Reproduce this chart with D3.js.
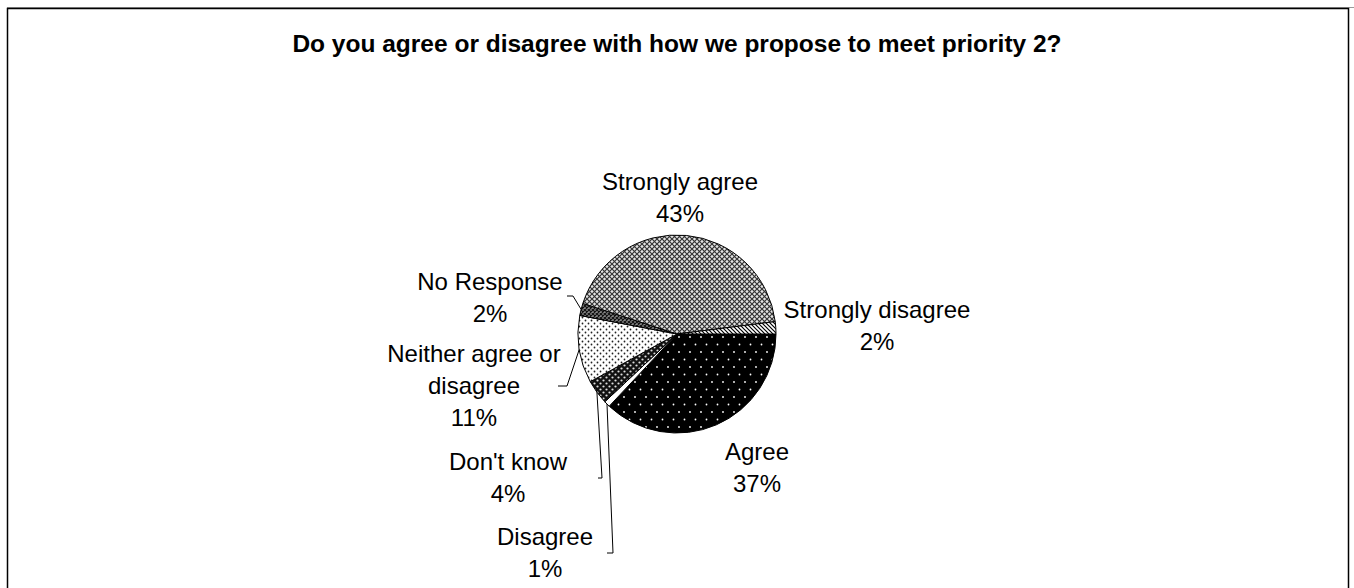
<!DOCTYPE html>
<html>
<head>
<meta charset="utf-8">
<script src="https://cdn.jsdelivr.net/npm/d3@7"></script>
<style>
  html, body { margin: 0; padding: 0; background: #fff; }
  svg { display: block; }
  text { font-family: "Liberation Sans", Arial, sans-serif; fill: #000; }
</style>
</head>
<body>
<svg id="chart" width="1354" height="588"></svg>
<script>
// Survey responses, in the order the slices are drawn (clockwise from 3 o'clock)
const categories = ["Agree", "Disagree", "Don't know", "Neither agree or disagree", "No Response", "Strongly agree", "Strongly disagree"];
const percents = [37, 1, 4, 11, 2, 43, 2];
const labelLines = [["Agree"], ["Disagree"], ["Don't know"], ["Neither agree or", "disagree"], ["No Response"], ["Strongly agree"], ["Strongly disagree"]];
const fills = ["url(#pAgree)", "#ffffff", "url(#pDontKnow)", "url(#pNeither)", "url(#pNoResp)", "url(#pStrAgree)", "url(#pStrDis)"];

const title = "Do you agree or disagree with how we propose to meet priority 2?";

const W = 1354, H = 588;
const cx = 677, cy = 334, R = 99;

const svg = d3.select("#chart");
const defs = svg.append("defs");

// Fill patterns for the slices
function dotPattern(id, w, h, bg, fg, r, pts) {
  const p = defs.append("pattern").attr("id", id).attr("patternUnits", "userSpaceOnUse")
    .attr("width", w).attr("height", h);
  p.append("rect").attr("width", w).attr("height", h).attr("fill", bg);
  pts.forEach(([x, y]) => p.append("circle").attr("cx", x).attr("cy", y).attr("r", r).attr("fill", fg));
}
dotPattern("pAgree", 11, 15, "#000", "#fff", 0.9, [[2, 3], [7.5, 10.5]]);
dotPattern("pDontKnow", 6, 6, "#111", "#ddd", 1.1, [[1.5, 1.5], [4.5, 4.5]]);
dotPattern("pNeither", 6, 6, "#fff", "#222", 0.9, [[1.5, 1.5], [4.5, 4.5]]);

// diamond mesh patterns
function meshPattern(id, s, bg, fg, sw) {
  const p = defs.append("pattern").attr("id", id).attr("patternUnits", "userSpaceOnUse")
    .attr("width", s).attr("height", s);
  p.append("rect").attr("width", s).attr("height", s).attr("fill", bg);
  p.append("path").attr("d", `M0,0L${s},${s}M${s},0L0,${s}`).attr("stroke", fg).attr("stroke-width", sw);
}
meshPattern("pStrAgree", 5, "#e4e4e4", "#333", 1.2);
meshPattern("pNoResp", 4, "#888", "#111", 1.2);

// diagonal stripes
{
  const p = defs.append("pattern").attr("id", "pStrDis").attr("patternUnits", "userSpaceOnUse")
    .attr("width", 4).attr("height", 4);
  p.append("rect").attr("width", 4).attr("height", 4).attr("fill", "#fff");
  p.append("path").attr("d", "M-1,-1L5,5M-1,3L1,5M3,-1L5,1").attr("stroke", "#000").attr("stroke-width", 1.2);
}

// Frame
svg.append("line").attr("x1", 7).attr("x2", W).attr("y1", 7.5).attr("y2", 7.5)
  .attr("stroke", "#999").attr("stroke-width", 1);
svg.append("rect").attr("x", 7.5).attr("y", 8.5).attr("width", 1341).attr("height", 620)
  .attr("fill", "none").attr("stroke", "#000").attr("stroke-width", 1.5);

// Title
svg.append("text").attr("x", 677).attr("y", 52).attr("text-anchor", "middle")
  .attr("font-size", 24.5).attr("font-weight", "bold").text(title);

// Pie
const data = categories.map((c, i) => ({ cat: c, value: percents[i], lines: labelLines[i], fill: fills[i] }));
const pie = d3.pie().value(d => d.value).sort(null)
  .startAngle(Math.PI / 2).endAngle(Math.PI / 2 + 2 * Math.PI);
const arcs = pie(data);
const arc = d3.arc().innerRadius(0).outerRadius(R);

const g = svg.append("g").attr("transform", `translate(${cx},${cy})`);
g.selectAll("path.slice").data(arcs).enter().append("path")
  .attr("class", "slice")
  .attr("d", arc)
  .attr("fill", d => d.data.fill)
  .attr("stroke", "#000").attr("stroke-width", 1).attr("stroke-linejoin", "round");

// Label placement: anchor (centre of first line baseline) relative to pie centre
const labelPos = {
  "Agree": { x: 80, y: 126 },
  "Disagree": { x: -132, y: 211 },
  "Don't know": { x: -169, y: 136 },
  "Neither agree or disagree": { x: -203, y: 28 },
  "No Response": { x: -187, y: -44 },
  "Strongly agree": { x: 3, y: -144 },
  "Strongly disagree": { x: 200, y: -16 }
};
// Leader lines: [label-side end, elbow]; the third point lies on the slice edge
const leaders = {
  "Disagree": [[-70, 219], [-64, 219]],
  "Don't know": [[-79, 144], [-75, 144]],
  "Neither agree or disagree": [[-119, 52], [-110, 52]],
  "No Response": [[-110, -38], [-104, -38]]
};

const fontSize = 24, lineH = 32;
const labels = svg.append("g");
arcs.forEach(a => {
  const p = labelPos[a.data.cat];
  const t = labels.append("text").attr("text-anchor", "middle").attr("font-size", fontSize);
  const lines = a.data.lines.concat([d3.format(".0f")(a.data.value) + "%"]);
  lines.forEach((ln, i) => {
    t.append("tspan").attr("x", cx + p.x).attr("y", cy + p.y + i * lineH).text(ln);
  });
  const L = leaders[a.data.cat];
  if (L) {
    const mid = (a.startAngle + a.endAngle) / 2;
    const ex = Math.sin(mid) * R, ey = -Math.cos(mid) * R;
    const pts = [L[0], L[1], [ex, ey]].map(([x, y]) => [cx + x, cy + y]);
    svg.append("path").attr("d", d3.line()(pts)).attr("fill", "none")
      .attr("stroke", "#000").attr("stroke-width", 1);
  }
});
</script>
</body>
</html>
